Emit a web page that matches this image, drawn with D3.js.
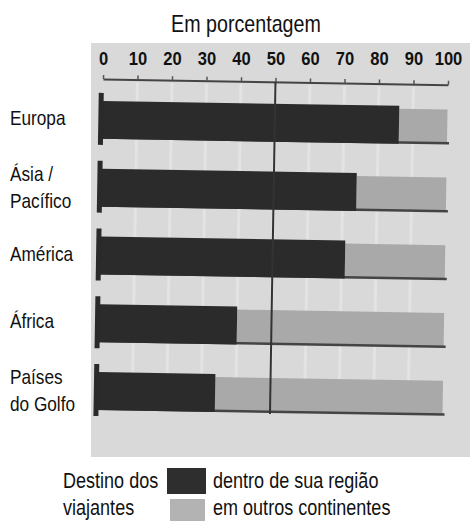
<!DOCTYPE html>
<html>
<head>
<meta charset="utf-8">
<script src="https://cdn.jsdelivr.net/npm/d3@7"></script>
<style>
  html, body { margin: 0; padding: 0; background: #fff; }
  svg { display: block; }
  text { font-family: "Liberation Sans", Arial, sans-serif; fill: #111; }
</style>
</head>
<body>
<svg id="chart" width="470" height="521"></svg>
<script>
// ---- data ----
const title = "Em porcentagem";
const categories = ["Europa", "Ásia / Pacífico", "América", "África", "Países do Golfo"];
const categoryLines = [["Europa"], ["Ásia /", "Pacífico"], ["América"], ["África"], ["Países", "do Golfo"]];
const withinRegion = [86, 74, 71, 40, 34];      // dentro de sua região
const otherContinents = [14, 26, 29, 60, 66];  // em outros continentes
const tickValues = [0, 10, 20, 30, 40, 50, 60, 70, 80, 90, 100];
const referenceValue = 50;
const legendTitle = ["Destino dos", "viajantes"];
const legendLabels = ["dentro de sua região", "em outros continentes"];

// ---- layout ----
const W = 470, H = 521;
const NARROW = 0.82;
const svg = d3.select("#chart");
const colDark = "#2b2b2b", colLight = "#a9a9a9", colPanel = "#d9d9d9";

function narrowText(parent, px, py, str, size, anchor) {
  return parent.append("text")
    .attr("transform", `translate(${px},${py}) scale(${NARROW},1)`)
    .attr("text-anchor", anchor || "start")
    .style("font-size", size + "px")
    .text(str);
}

const x = d3.scaleLinear().domain([0, 100]).range([103, 448]);
const y = d3.scaleBand().domain(categories).range([67, 444]).paddingInner(0.44).paddingOuter(0.5);
const bw = y.bandwidth();

// title
narrowText(svg, 246, 32, title, 24, "middle");

// scanned panel background
svg.append("rect").attr("x", 91).attr("y", 43).attr("width", W - 91).attr("height", 414)
  .attr("fill", colPanel);

// tick labels (not rotated)
const tickAxis = d3.axisTop(x).tickValues(tickValues).tickSize(0).tickPadding(0);
const gTicks = svg.append("g").attr("transform", "translate(0,65)").call(tickAxis);
gTicks.select(".domain").remove();
gTicks.selectAll("text")
  .attr("transform", "scale(0.92,1)")
  .style("font-family", '"Liberation Sans", Arial, sans-serif')
  .style("font-size", "18px").style("font-weight", "bold").attr("fill", "#2a2a2a");

// rotated content (scan is slightly tilted)
const g = svg.append("g").attr("transform", "rotate(0.95,103,79)");

// faint light vertical stripes
g.selectAll("line.stripe").data(tickValues.slice(1, 10)).join("line")
  .attr("class", "stripe")
  .attr("x1", d => x(d)).attr("x2", d => x(d))
  .attr("y1", 82).attr("y2", y(categories[categories.length - 1]) + bw)
  .attr("stroke", "#e3e3e3").attr("stroke-width", 3);

// axis line with ticks
const axis = d3.axisTop(x).tickValues(tickValues).tickSize(4).tickSizeOuter(0).tickFormat("");
const gAxis = g.append("g").attr("transform", "translate(0,79)").call(axis);
gAxis.select(".domain").attr("stroke", "#444").attr("stroke-width", 2);
gAxis.selectAll(".tick line").attr("stroke", "#555").attr("stroke-width", 1.5);

// bars
const rows = categories.map((c, i) => ({ c, a: withinRegion[i], b: otherContinents[i] }));
const bars = g.selectAll("g.bar").data(rows).join("g").attr("class", "bar");
bars.append("rect") // light part
  .attr("x", d => x(d.a)).attr("y", d => y(d.c) + 3)
  .attr("width", d => x(d.a + d.b) - x(d.a)).attr("height", bw - 4)
  .attr("fill", colLight);
bars.append("rect") // bottom shadow line
  .attr("x", x(0)).attr("y", d => y(d.c) + bw - 2.5)
  .attr("width", d => x(d.a + d.b) - x(0) + 2).attr("height", 2.5)
  .attr("fill", "#444");
bars.append("rect") // dark part
  .attr("x", x(0)).attr("y", d => y(d.c))
  .attr("width", d => x(d.a) - x(0)).attr("height", bw)
  .attr("fill", colDark);
bars.append("rect") // left cap
  .attr("x", x(0) - 4).attr("y", d => y(d.c) - 8)
  .attr("width", 5).attr("height", bw + 14)
  .attr("fill", "#2a2a2a");

// 50% reference line
g.append("line")
  .attr("x1", x(referenceValue)).attr("x2", x(referenceValue))
  .attr("y1", 79).attr("y2", y(categories[categories.length - 1]) + bw + 1)
  .attr("stroke", "#333").attr("stroke-width", 2);

// category labels
categories.forEach((c, i) => {
  const lines = categoryLines[i];
  const cy = y(c) + bw / 2;
  if (lines.length === 1) {
    narrowText(svg, 10, cy + 5, lines[0], 21);
  } else {
    narrowText(svg, 10, cy - 7, lines[0], 21);
    narrowText(svg, 10, cy + 20, lines[1], 21);
  }
});

// legend
narrowText(svg, 63, 488, legendTitle[0], 22);
narrowText(svg, 63, 515, legendTitle[1], 22);
svg.append("rect").attr("x", 167).attr("y", 468).attr("width", 39).attr("height", 26).attr("fill", "#2e2e2e");
svg.append("rect").attr("x", 170).attr("y", 499).attr("width", 35).attr("height", 22).attr("fill", "#b3b3b3");
narrowText(svg, 213, 488, legendLabels[0], 22);
narrowText(svg, 213, 515, legendLabels[1], 22);
</script>
</body>
</html>
